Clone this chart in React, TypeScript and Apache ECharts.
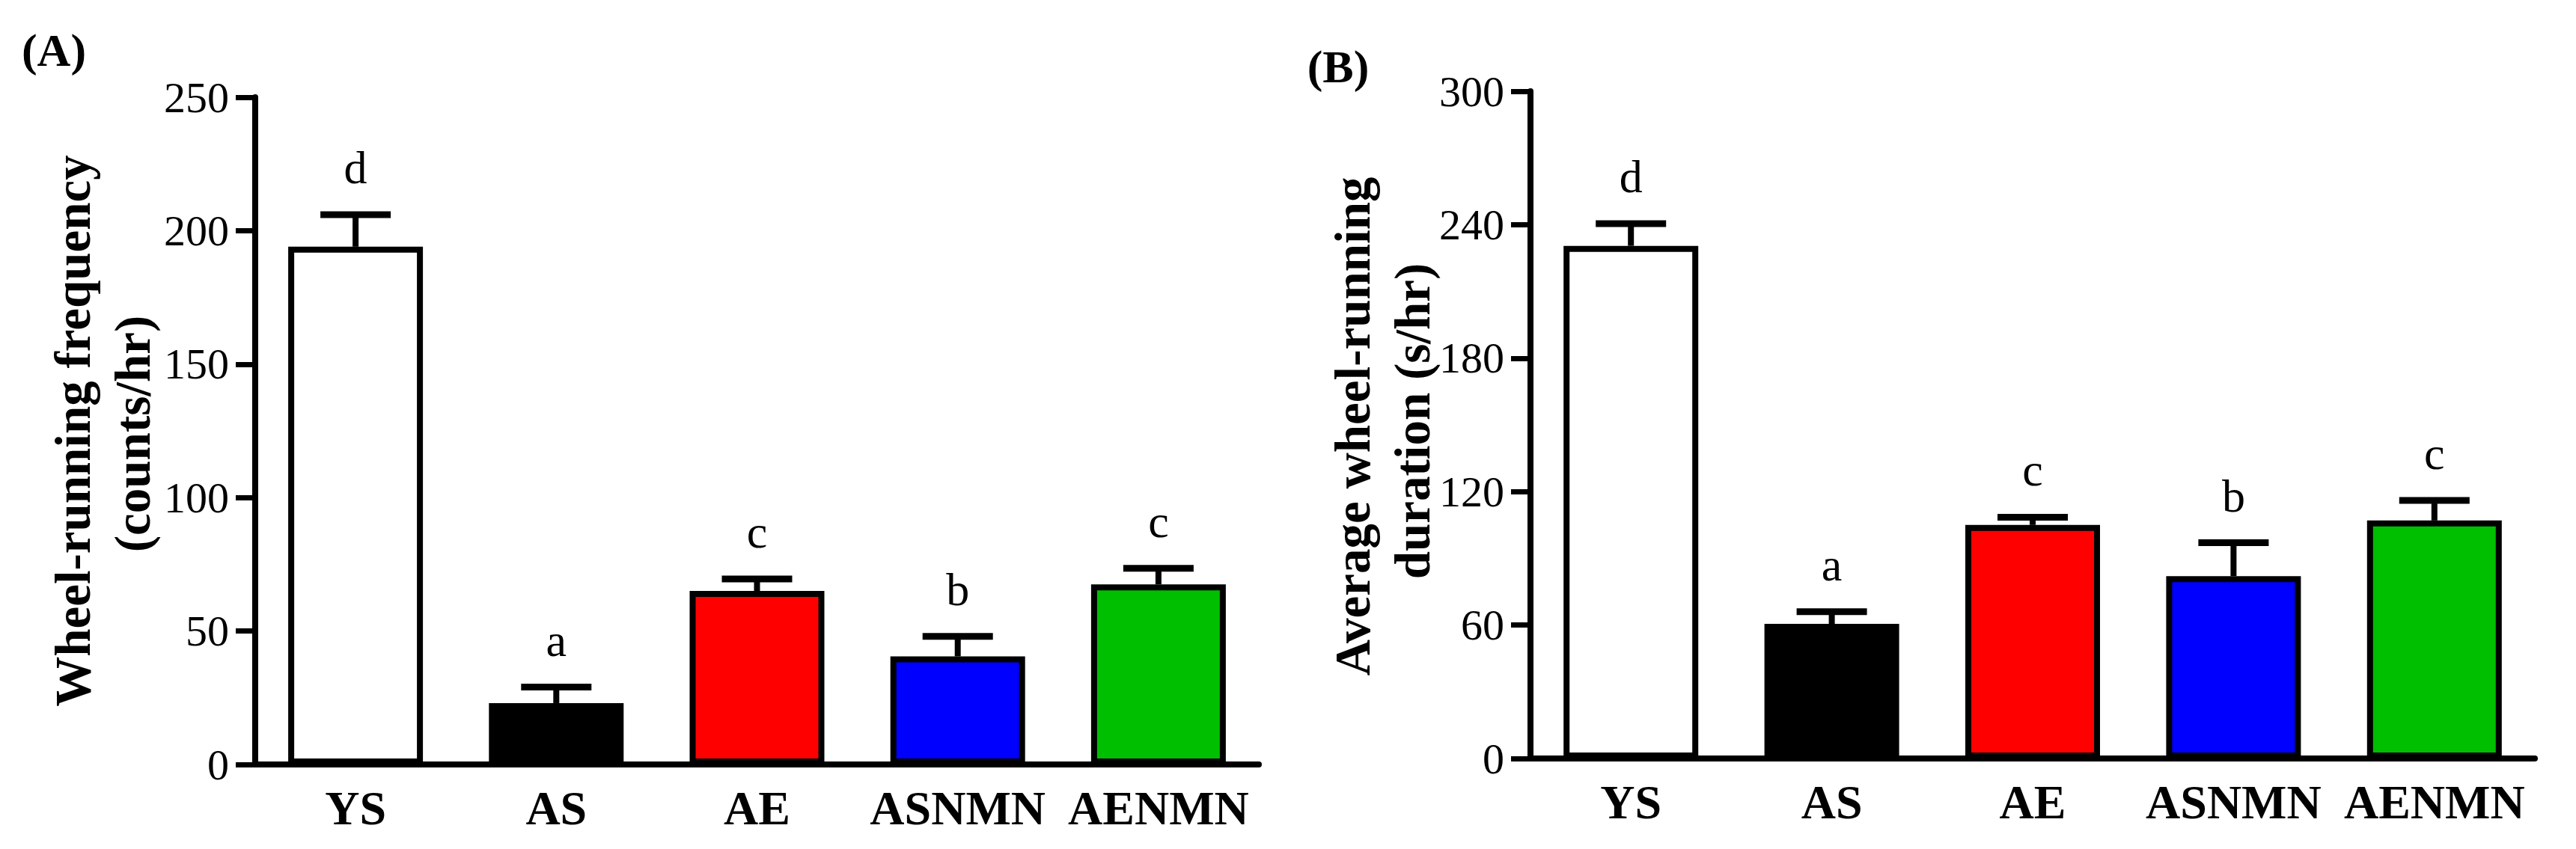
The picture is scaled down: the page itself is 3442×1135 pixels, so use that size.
import React, { useEffect, useRef } from "react";
import * as echarts from "echarts";

const categories = ["YS", "AS", "AE", "ASNMN", "AENMN"];
const freqMean = [194, 23, 65, 40.5, 67.5];
const freqErr = [12, 6, 4.5, 7.5, 6];
const durMean = [230.5, 60.5, 105, 82, 107];
const durErr = [10, 5.5, 3.5, 15, 9];
const freqLetters = ["d", "a", "c", "b", "c"];
const durLetters = ["d", "a", "c", "b", "c"];
const barColors = ["#FFFFFF", "#000000", "#FF0000", "#0000FF", "#00BE00"];
const freqAxis = { min: 0, max: 250, interval: 50 };
const durAxis = { min: 0, max: 300, interval: 60 };
const freqTitle = ["Wheel-running frequency", "(counts/hr)"];
const durTitle = ["Average wheel-running", "duration (s/hr)"];

const FONT = "'Liberation Serif', 'Times New Roman', serif";

function makeErrSeries(gridIdx: number, means: number[], errs: number[], letters: string[]) {
  return {
    type: "custom",
    xAxisIndex: gridIdx,
    yAxisIndex: gridIdx,
    clip: false,
    z: 5,
    data: means.map((m, i) => [i, m, errs[i]]),
    encode: { x: 0, y: 1 },
    renderItem: (params: any, api: any) => {
      const x = api.value(0);
      const mean = api.value(1);
      const err = api.value(2);
      const base = api.coord([x, mean]);
      const top = api.coord([x, mean + err]);
      return {
        type: "group",
        children: [
          {
            type: "line",
            shape: { x1: base[0], y1: base[1], x2: base[0], y2: top[1] },
            style: { stroke: "#000", lineWidth: 8 },
          },
          {
            type: "line",
            shape: { x1: base[0] - 47, y1: top[1], x2: base[0] + 47, y2: top[1] },
            style: { stroke: "#000", lineWidth: 9 },
          },
          {
            type: "text",
            style: {
              text: letters[params.dataIndex],
              x: base[0],
              y: top[1] - 32,
              align: "center",
              verticalAlign: "bottom",
              fontSize: 62,
              fontFamily: FONT,
              fill: "#000",
            },
          },
        ],
      };
    },
  };
}

function makeBarSeries(gridIdx: number, means: number[]) {
  return {
    type: "bar",
    xAxisIndex: gridIdx,
    yAxisIndex: gridIdx,
    barWidth: 180,
    data: means.map((v, i) => ({
      value: v,
      itemStyle: { color: barColors[i], borderColor: "#000", borderWidth: 8 },
    })),
  };
}

function yAxisCfg(gridIdx: number, ax: { min: number; max: number; interval: number }) {
  return {
    type: "value",
    gridIndex: gridIdx,
    min: ax.min,
    max: ax.max,
    interval: ax.interval,
    axisLine: { show: true, lineStyle: { color: "#000", width: 8 } },
    axisTick: { show: true, length: 26, lineStyle: { color: "#000", width: 7 } },
    splitLine: { show: false },
    axisLabel: { color: "#000", fontSize: 58, fontFamily: FONT, margin: 35 },
  };
}

function xAxisCfg(gridIdx: number) {
  return {
    type: "category",
    gridIndex: gridIdx,
    data: categories,
    axisLine: { show: true, lineStyle: { color: "#000", width: 8 } },
    axisTick: { show: false },
    axisLabel: {
      color: "#000",
      fontSize: 64,
      fontWeight: "bold",
      fontFamily: FONT,
      margin: 26,
      interval: 0,
    },
  };
}

function titleText(text: string, x: number, y: number) {
  return {
    type: "text",
    x,
    y,
    rotation: Math.PI / 2,
    style: {
      text,
      align: "center",
      verticalAlign: "middle",
      fontSize: 67,
      fontWeight: "bold",
      fontFamily: FONT,
      fill: "#000",
    },
  };
}

export default function App() {
  const ref = useRef<HTMLDivElement>(null);
  useEffect(() => {
    if (!ref.current) return;
    const chart = echarts.init(ref.current, undefined, { renderer: "svg" });
    chart.setOption({
      animation: false,
      backgroundColor: "#FFFFFF",
      grid: [
        { left: 341, top: 130, width: 1341, height: 892 },
        { left: 2045, top: 122, width: 1342, height: 892 },
      ],
      xAxis: [xAxisCfg(0), xAxisCfg(1)],
      yAxis: [yAxisCfg(0, freqAxis), yAxisCfg(1, durAxis)],
      series: [
        makeBarSeries(0, freqMean),
        makeErrSeries(0, freqMean, freqErr, freqLetters),
        makeBarSeries(1, durMean),
        makeErrSeries(1, durMean, durErr, durLetters),
      ],
      graphic: [
        {
          type: "text",
          x: 72,
          y: 67,
          style: {
            text: "(A)",
            align: "center",
            verticalAlign: "middle",
            fontSize: 62,
            fontWeight: "bold",
            fontFamily: FONT,
            fill: "#000",
          },
        },
        {
          type: "text",
          x: 1788,
          y: 89,
          style: {
            text: "(B)",
            align: "center",
            verticalAlign: "middle",
            fontSize: 62,
            fontWeight: "bold",
            fontFamily: FONT,
            fill: "#000",
          },
        },
        titleText(freqTitle[0], 97, 576),
        titleText(freqTitle[1], 177, 580),
        titleText(durTitle[0], 1807, 570),
        titleText(durTitle[1], 1887, 563),
      ],
    });
    return () => chart.dispose();
  }, []);
  return (
    <div
      ref={ref}
      style={{ position: "fixed", left: 0, top: 0, width: 3442, height: 1135, background: "#fff" }}
    />
  );
}
